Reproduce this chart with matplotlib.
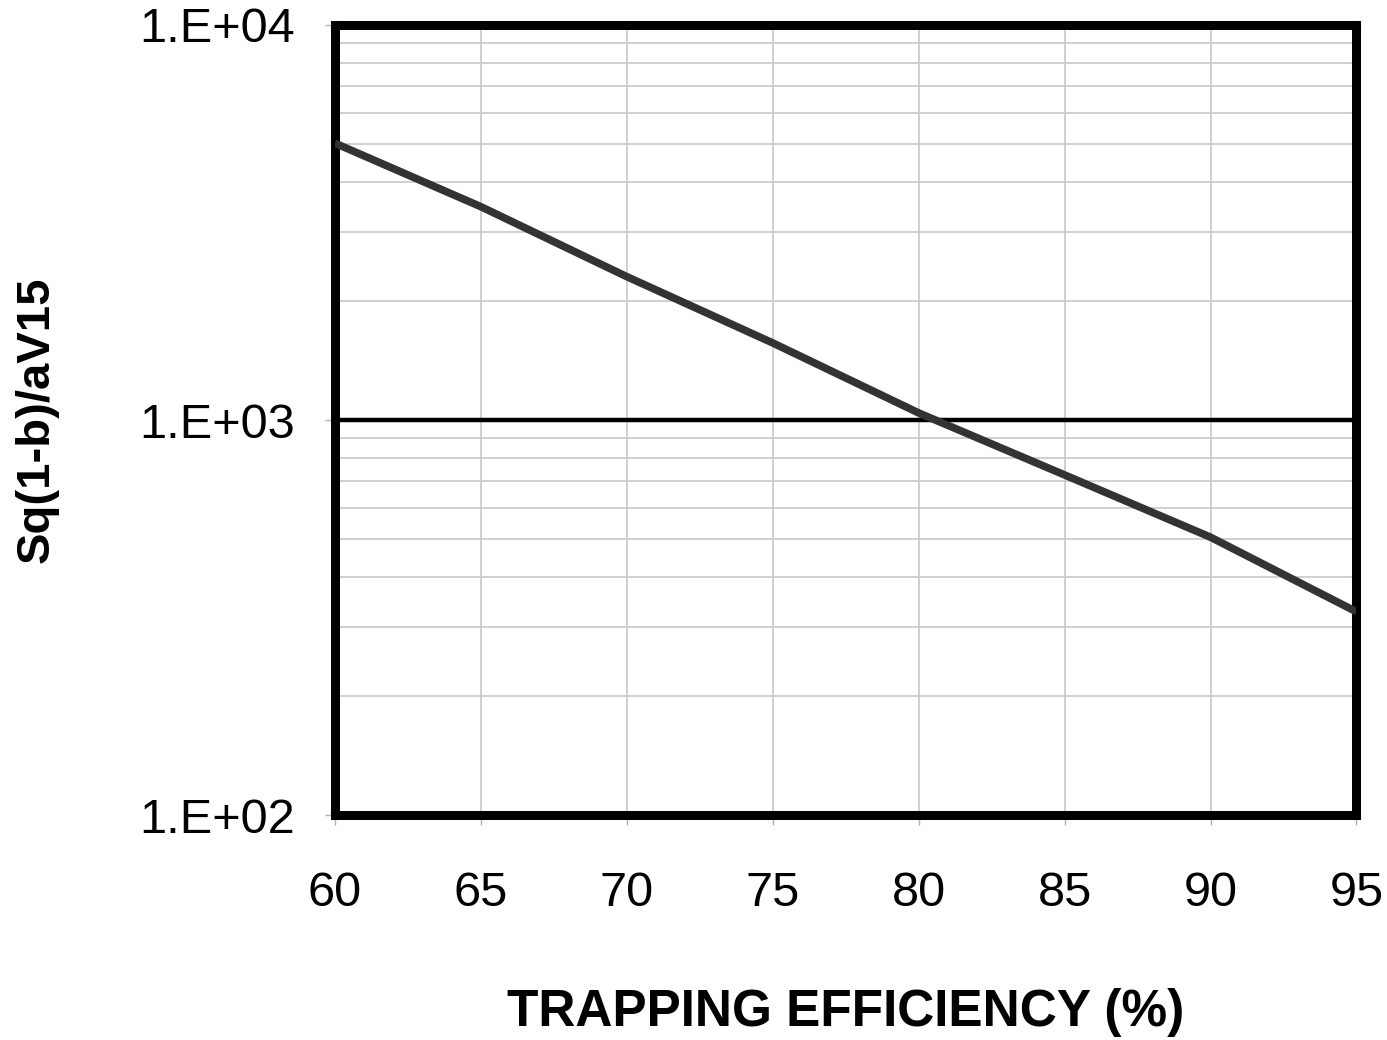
import matplotlib
matplotlib.use('Agg')
import matplotlib.pyplot as plt
from matplotlib.ticker import FixedLocator, LogLocator, NullFormatter

plt.rcParams['font.family'] = ['Liberation Sans', 'DejaVu Sans']

# trapping efficiency (%) vs Sq(1-b)/aV15
efficiency = [60, 65, 70, 75, 80, 85, 90, 95]
sq_ratio = [5020, 3467, 2306, 1567, 1042, 726, 505, 327]

x_ticks = [60, 65, 70, 75, 80, 85, 90, 95]
y_ticks = [1e2, 1e3, 1e4]
y_tick_labels = ['1.E+02', '1.E+03', '1.E+04']

fig = plt.figure(figsize=(13.87, 10.4), dpi=100)
ax = fig.add_axes([0.2415, 0.2163, 0.7365, 0.7597])

ax.set_yscale('log')
ax.set_xlim(60, 95)
ax.set_ylim(100, 10000)

ax.xaxis.set_major_locator(FixedLocator(x_ticks))
ax.yaxis.set_major_locator(FixedLocator(y_ticks))
ax.set_yticklabels(y_tick_labels)
ax.yaxis.set_minor_locator(LogLocator(base=10, subs=range(2, 10)))
ax.yaxis.set_minor_formatter(NullFormatter())

ax.grid(True, which='minor', axis='y', color='#c8c8c8', lw=1.2)
ax.grid(True, which='major', axis='x', color='#c8c8c8', lw=1.2)
ax.grid(True, which='major', axis='y', color='black', lw=3.2)

ax.plot(efficiency, sq_ratio, color='#333333', lw=5.5, solid_capstyle='butt', zorder=3)

for s in ax.spines.values():
    s.set_linewidth(6.5)
    s.set_color('black')

ax.tick_params(axis='both', which='major', direction='out', length=7, width=1,
               color='#b0b0b0', labelsize=35)
ax.tick_params(axis='x', pad=33)
ax.tick_params(axis='y', pad=22)
ax.tick_params(axis='y', which='minor', length=0)

ax.set_xlabel('TRAPPING EFFICIENCY (%)', fontsize=37, fontweight='bold', labelpad=52)
ax.set_ylabel('Sq(1-b)/aV15', fontsize=34, fontweight='bold', labelpad=58)

fig.savefig('out.png', dpi=100)
